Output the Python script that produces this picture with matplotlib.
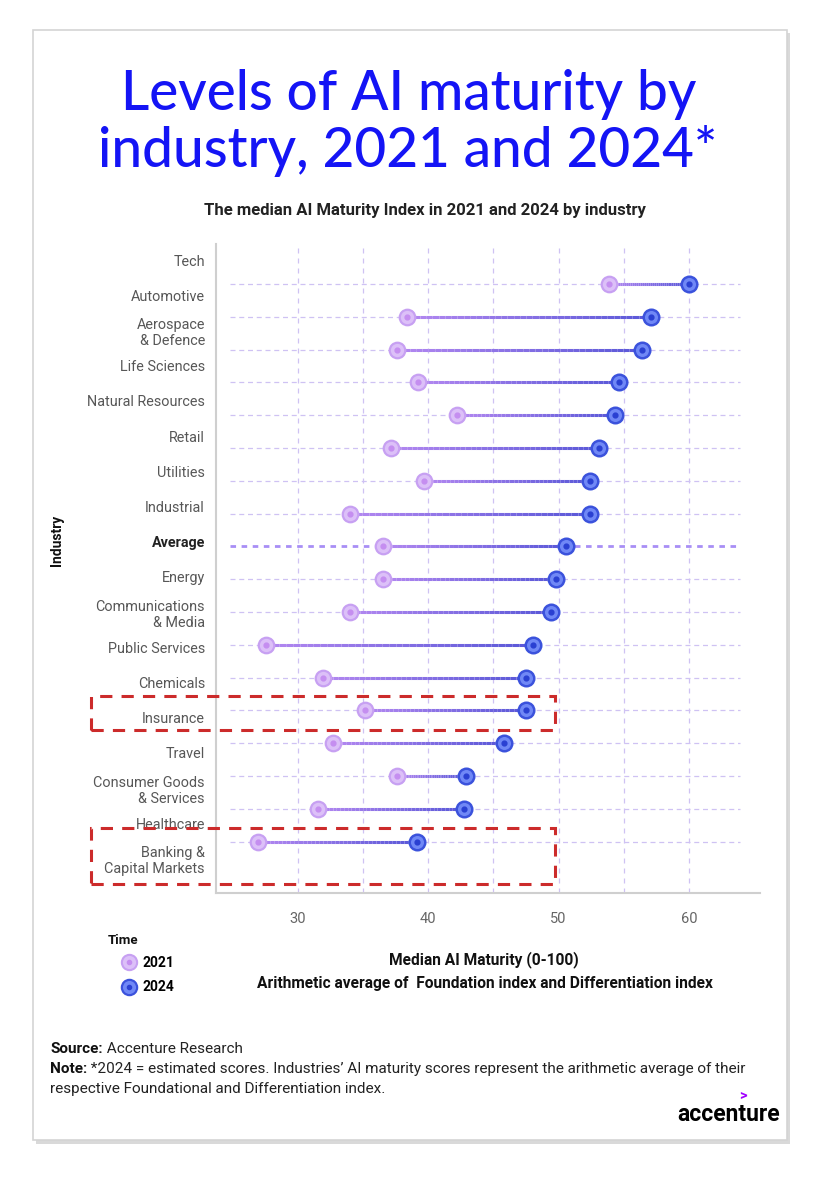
import numpy as np
import matplotlib.pyplot as plt
from matplotlib.lines import Line2D
from matplotlib.patches import Rectangle
from matplotlib.text import Annotation
from matplotlib.collections import LineCollection
from matplotlib.colors import LinearSegmentedColormap

# median AI maturity index per industry
industries = [
    "Tech", "Automotive", "Aerospace\n& Defence", "Life Sciences",
    "Natural Resources", "Retail", "Utilities", "Industrial", "Average",
    "Energy", "Communications\n& Media", "Public Services", "Chemicals",
    "Insurance", "Travel", "Consumer Goods\n& Services", "Healthcare",
    "Banking &\nCapital Markets",
]
score_2021 = [53.9, 38.4, 37.6, 39.2, 42.2, 37.1, 39.7, 34.0, 36.5,
              36.5, 34.0, 27.5, 31.9, 35.1, 32.7, 37.6, 31.5, 26.9]
score_2024 = [60.0, 57.1, 56.4, 54.6, 54.3, 53.1, 52.4, 52.4, 50.6,
              49.8, 49.4, 48.0, 47.5, 47.5, 45.8, 42.9, 42.7, 39.1]
x_ticks = [30, 40, 50, 60]
x_minor = [35, 45, 55]
years = ["2021", "2024"]

W, H = 822, 1180


def fx(px):
    return px / W


def fy(py):
    return 1 - py / H


C21_FACE, C21_EDGE, C21_DOT = "#dcc0f8", "#c7a0f2", "#c58ef0"
C24_FACE, C24_EDGE, C24_DOT = "#7088f6", "#3b52dc", "#2a40d2"
GRID = "#cfc2f3"
BODY_FONT = ["Roboto", "DejaVu Sans"]

plt.rcParams["font.family"] = BODY_FONT

fig = plt.figure(figsize=(W / 100, H / 100), dpi=100)
fig.patch.set_facecolor("white")

# card with a soft shadow
fig.add_artist(Rectangle((fx(36), fy(1144)), fx(787 - 33), (1144 - 33) / H,
                         transform=fig.transFigure, fc="#d9d9d9", ec="none", zorder=-3))
fig.add_artist(Rectangle((fx(33), fy(1140)), fx(787 - 33), (1140 - 30) / H,
                         transform=fig.transFigure, fc="white", ec="#d4d4d4", lw=1.2, zorder=-2))

rect = [fx(216), fy(893), (760 - 216) / W, (893 - 244) / H]
ax = fig.add_axes(rect)
ax.set_facecolor("none")
rows = np.arange(len(industries))

ax.set_xlim(23.7, 65.46)
ax.set_ylim(18.57, -1.22)

ax.set_xticks(x_ticks)
ax.set_xticks(x_minor, minor=True)
ax.grid(axis="x", which="both", color=GRID, ls=(0, (4, 4)), lw=0.9)
ax.set_yticks([])
ax.tick_params(axis="x", which="both", length=0, pad=14, labelsize=10.5, labelcolor="#666666")

for s in ["top", "right"]:
    ax.spines[s].set_visible(False)
for s in ["left", "bottom"]:
    ax.spines[s].set_color("#cfcfcf")
    ax.spines[s].set_linewidth(1.5)

avg_idx = industries.index("Average")
other = [i for i in rows if i != avg_idx]
ax.hlines(other, 24.8, 63.9, color=GRID, ls=(0, (4, 3)), lw=0.9, zorder=1)
ax.hlines(avg_idx, 24.8, 63.9, color="#a88ef5", ls=(0, (2, 2)), lw=2.0, zorder=1)

# connectors, shaded from the 2021 colour to the 2024 colour
grad = LinearSegmentedColormap.from_list("conn", ["#b287f0", "#5a58d8"])
for y, a, b in zip(rows, score_2021, score_2024):
    xs = np.linspace(a, b, 40)
    segs = [[(xs[k], y), (xs[k + 1], y)] for k in range(len(xs) - 1)]
    lc = LineCollection(segs, colors=grad(np.linspace(0, 1, len(segs))), lw=2.2,
                        zorder=2, capstyle="butt")
    ax.add_collection(lc)

ax.scatter(score_2021, rows, s=125, facecolor=C21_FACE, edgecolor=C21_EDGE, lw=1.6, zorder=3)
ax.scatter(score_2021, rows, s=12, color=C21_DOT, zorder=4)
ax.scatter(score_2024, rows, s=125, facecolor=C24_FACE, edgecolor=C24_EDGE, lw=1.8, zorder=3)
ax.scatter(score_2024, rows, s=12, color=C24_DOT, zorder=4)

# industry labels sit on their own spacing
lab = fig.add_axes(rect, frameon=False)
lab.set_ylim((893 - 260) / 35.2, (244 - 260) / 35.2)
lab.set_xticks([])
lab.set_yticks(rows, industries)
lab.tick_params(axis="y", length=0, pad=8, labelsize=10.4, labelcolor="#575757")
for t in lab.get_yticklabels():
    if t.get_text() == "Average":
        t.set_fontweight("bold")
        t.set_color("#222222")
lab.patch.set_visible(False)

# highlight boxes
for top, bottom in [(696, 730), (828, 884)]:
    fig.add_artist(Rectangle((fx(91), fy(bottom)), fx(555 - 91), (bottom - top) / H,
                             transform=fig.transFigure, fill=False, ec="#cc2b2b",
                             lw=2.2, ls=(0, (4, 3)), zorder=5))

# titles
title_font = ["Lato", "DejaVu Sans"]
fig.text(fx(409), fy(110), "Levels of AI maturity by", ha="center", va="baseline",
         fontsize=39.5, fontweight="medium", color="#1414f5", family=title_font)
fig.text(fx(408), fy(167), "industry, 2021 and 2024*", ha="center", va="baseline",
         fontsize=39.5, fontweight="medium", color="#1414f5", family=title_font)
fig.text(fx(425), fy(215), "The median AI Maturity Index in 2021 and 2024 by industry",
         ha="center", va="baseline", fontsize=12, fontweight="bold", color="#222222")

fig.text(fx(57), fy(540), "Industry", rotation=90, ha="center", va="center",
         fontsize=10, fontweight="bold", color="#111111")
fig.text(fx(484), fy(964), "Median AI Maturity (0-100)", ha="center", va="baseline",
         fontsize=11.2, fontweight="bold", color="#111111")
fig.text(fx(485), fy(988), "Arithmetic average of  Foundation index and Differentiation index",
         ha="center", va="baseline", fontsize=11.2, fontweight="bold", color="#111111")

# legend
fig.text(fx(108), fy(944), "Time", ha="left", va="baseline", fontsize=9.5,
         fontweight="bold", color="#111111")
handles = [
    (Line2D([], [], ls="none", marker="o", ms=11, mfc=C21_FACE, mec=C21_EDGE, mew=1.5),
     Line2D([], [], ls="none", marker="o", ms=3, mfc=C21_DOT, mec=C21_DOT)),
    (Line2D([], [], ls="none", marker="o", ms=11, mfc=C24_FACE, mec=C24_EDGE, mew=1.6),
     Line2D([], [], ls="none", marker="o", ms=3, mfc=C24_DOT, mec=C24_DOT)),
]
fig.legend(handles, years, loc="upper left", bbox_to_anchor=(fx(122), fy(956)),
           frameon=False, handlelength=1.0, handletextpad=0.5, labelspacing=0.75,
           borderaxespad=0, borderpad=0, prop={"weight": "bold", "size": 10})

# source / note
NOTE_SIZE = 11
src = fig.text(fx(50), fy(1053), "Source:", ha="left", va="baseline", fontsize=NOTE_SIZE,
               fontweight="bold", color="#111111")
fig.add_artist(Annotation(" Accenture Research", xy=(1, 0), xycoords=src, va="bottom",
                          ha="left", fontsize=NOTE_SIZE, color="#222222"))
note = fig.text(fx(50), fy(1073), "Note:", ha="left", va="baseline", fontsize=NOTE_SIZE,
                fontweight="bold", color="#111111")
fig.add_artist(Annotation(" *2024 = estimated scores. Industries\u2019 AI maturity scores represent "
                          "the arithmetic average of their", xy=(1, 0), xycoords=note,
                          va="bottom", ha="left", fontsize=NOTE_SIZE, color="#222222"))
fig.text(fx(50), fy(1093), "respective Foundational and Differentiation index.", ha="left",
         va="baseline", fontsize=NOTE_SIZE, color="#222222")

# logo
fig.text(fx(780), fy(1121), "accenture", ha="right", va="baseline", fontsize=16.5,
         fontweight="bold", color="#000000")
fig.text(fx(743), fy(1100), ">", ha="center", va="baseline", fontsize=10.5,
         fontweight="bold", color="#a100ff")

fig.savefig("out.png", dpi=100)
